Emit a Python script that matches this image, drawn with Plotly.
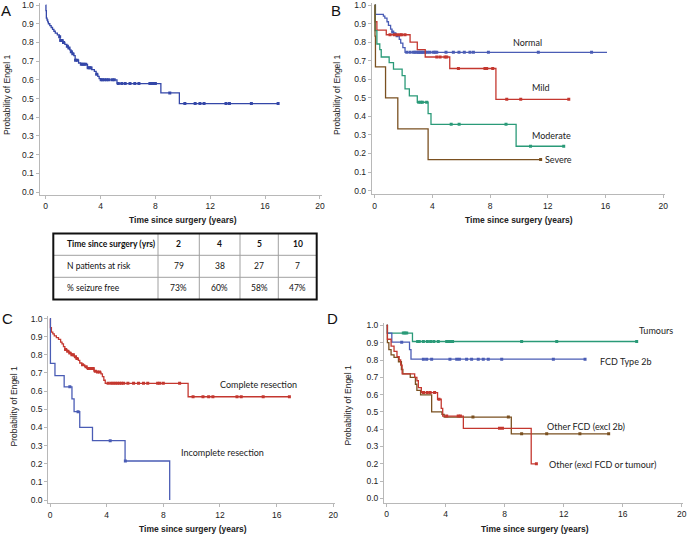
import plotly.graph_objects as go

W, H = 689, 535

# ---------------- DATA ----------------
# Panel A: overall Kaplan-Meier
A_t = [0, 0.02, 0.05, 0.1, 0.15, 0.2, 0.3, 0.4, 0.5, 0.6, 0.7, 0.85, 1.0, 1.05, 1.25, 1.4,
       1.55, 1.65, 1.75, 1.85, 1.95, 2.05, 2.15, 2.4, 2.55, 3.05, 3.35, 3.55, 3.68, 3.8, 3.9,
       4.0, 5.2, 8.4, 9.75]
A_s = [1.0, 0.97, 0.93, 0.92, 0.91, 0.90, 0.89, 0.88, 0.87, 0.86, 0.85, 0.84, 0.83, 0.81,
       0.80, 0.79, 0.78, 0.77, 0.76, 0.75, 0.74, 0.73, 0.705, 0.69, 0.683, 0.665, 0.655, 0.645,
       0.63, 0.618, 0.607, 0.60, 0.58, 0.53, 0.473]
A_end = 16.95
A_cens = [1.02, 1.1, 1.15, 1.2, 1.3, 1.58, 1.7, 1.87, 1.98, 2.18, 2.3, 2.6, 2.7, 2.8, 2.92,
          3.1, 3.2, 3.3, 3.72, 4.05, 4.15, 4.3, 4.45, 4.6, 4.85, 5.0, 5.3, 5.55, 5.8, 6.15,
          6.5, 6.8, 7.6, 7.75, 7.85, 8.0, 9.05, 10.15, 10.9, 11.25, 11.55, 13.15, 13.4, 15.0,
          16.95]

# Panel B: by severity
Bn_t = [0, 0.05, 0.6, 0.7, 0.85, 0.95, 1.1, 1.2, 1.3, 1.5, 1.7, 1.8, 1.95, 2.1]
Bn_s = [1.0, 0.95, 0.94, 0.93, 0.91, 0.89, 0.87, 0.855, 0.845, 0.835, 0.815, 0.795, 0.77, 0.745]
Bn_end = 16.1
Bn_cens = [1.25, 1.4, 1.55, 2.22, 2.45, 2.68, 2.79, 2.91, 3.03, 3.09, 3.19, 3.28, 3.37, 3.49,
           3.65, 3.83, 4.07, 4.18, 4.3, 4.94, 5.45, 5.84, 6.21, 6.6, 6.84, 7.88, 11.34, 15.03]

Bm_t = [0, 0.03, 0.15, 0.8, 2.45, 2.95, 3.5, 5.2, 8.4]
Bm_s = [1.0, 0.91, 0.865, 0.84, 0.80, 0.76, 0.72, 0.658, 0.492]
Bm_end = 13.45
Bm_cens = [1.06, 1.36, 1.57, 1.76, 1.87, 2.1, 4.3, 4.53, 4.87, 4.99, 5.8, 7.64, 7.76, 8.18,
           9.15, 10.12, 13.45]

Bo_t = [0, 0.03, 0.15, 0.35, 0.45, 1.0, 1.3, 1.9, 2.1, 2.4, 2.95, 3.7, 3.9, 9.8]
Bo_s = [1.0, 0.862, 0.79, 0.76, 0.72, 0.69, 0.655, 0.62, 0.548, 0.51, 0.476, 0.415, 0.357, 0.239]
Bo_end = 13.1
Bo_cens = [3.05, 3.2, 3.3, 3.6, 5.3, 5.85, 9.1, 10.8, 13.1]

Bs_t = [0, 0.02, 0.05, 0.75, 1.6, 3.7]
Bs_s = [1.0, 0.833, 0.667, 0.5, 0.333, 0.167]
Bs_end = 11.5
Bs_cens = [11.5]

# Panel C: by resection
Cc_t = [0, 0.03, 0.1, 0.2, 0.3, 0.45, 0.6, 0.75, 0.85, 0.95, 1.05, 1.2, 1.35, 1.5, 1.7,
        1.85, 2.0, 2.1, 2.25, 2.45, 2.6, 3.1, 3.3, 3.6, 3.7, 3.8, 3.9, 9.75]
Cc_s = [1.0, 0.95, 0.925, 0.915, 0.905, 0.895, 0.885, 0.87, 0.86, 0.845, 0.83, 0.82, 0.81,
        0.80, 0.79, 0.78, 0.77, 0.755, 0.745, 0.735, 0.725, 0.71, 0.705, 0.695, 0.68, 0.66,
        0.643, 0.569]
Cc_end = 16.9
Cc_cens = [1.1, 1.25, 1.4, 1.55, 1.65, 1.8, 1.9, 2.3, 2.55, 2.7, 2.8, 2.95, 3.05, 3.2, 3.35,
           3.5, 4.1, 4.3, 4.45, 4.6, 4.75, 4.9, 5.05, 5.2, 5.5, 5.9, 6.25, 6.6, 6.9, 7.6, 7.75,
           8.0, 9.15, 10.1, 10.8, 11.2, 11.5, 13.2, 13.5, 15.05, 16.9]

Ci_t = [0, 0.03, 0.35, 1.0, 1.55, 1.7, 2.1, 3.0, 5.3, 8.45]
Ci_s = [1.0, 0.753, 0.686, 0.624, 0.557, 0.487, 0.40, 0.327, 0.215, 0.0]
Ci_end = None
Ci_cens = [1.4, 1.98, 4.25, 5.32]

# Panel D: by pathology
Dt_t = [0, 0.05, 1.75]
Dt_s = [1.0, 0.956, 0.907]
Dt_end = 16.95
Dt_cens = [1.13, 1.24, 1.36, 2.1, 2.21, 2.49, 2.76, 2.98, 3.2, 3.5, 4.07, 4.25, 4.36, 4.47,
           9.15, 11.53, 16.95]

Df_t = [0, 0.05, 0.35, 1.55, 1.65]
Df_s = [1.0, 0.955, 0.903, 0.86, 0.805]
Df_end = 13.45
Df_cens = [1.02, 2.49, 2.71, 3.05, 4.29, 4.75, 4.93, 5.42, 5.76, 6.21, 6.55, 6.89, 7.8,
           11.3, 13.45]

Do_t = [0, 0.05, 0.15, 0.3, 0.5, 0.8, 1.0, 1.1, 1.6, 1.95, 2.05, 2.3, 3.05, 3.75, 3.9, 8.45]
Do_s = [1.0, 0.90, 0.86, 0.83, 0.815, 0.79, 0.745, 0.72, 0.70, 0.66, 0.625, 0.598, 0.50,
        0.486, 0.47, 0.373]
Do_end = 15.05
Do_cens = [5.85, 8.25, 9.15, 10.85, 13.1, 15.05]

Dx_t = [0, 0.05, 0.3, 0.5, 0.7, 0.85, 0.95, 1.05, 1.9, 2.05, 2.15, 2.35, 3.45, 3.7, 3.8,
        5.2, 9.8]
Dx_s = [1.0, 0.92, 0.88, 0.85, 0.82, 0.80, 0.77, 0.72, 0.70, 0.68, 0.64, 0.612, 0.573, 0.52,
        0.476, 0.405, 0.20]
Dx_end = 10.15
Dx_cens = [2.5, 2.75, 2.95, 3.25, 3.55, 4.07, 4.85, 5.0, 7.65, 7.85, 10.15]

# Table
tbl_header = "Time since surgery (yrs)"
tbl_times = ["2", "4", "5", "10"]
tbl_row_labels = ["N patients at risk", "% seizure free"]
tbl_at_risk = ["79", "38", "27", "7"]
tbl_pct = ["73%", "60%", "58%", "47%"]

x_ticks = [0, 4, 8, 12, 16, 20]
y_ticks = [i / 10 for i in range(11)]

# ---------------- STYLE ----------------
BLUE_A = "#3447a8"
BLUE = "#4a5cb5"
RED = "#c4372f"
GREEN = "#2a9a78"
BROWN = "#7a5020"
AXC = "#b8b8b8"
TICKFONT = dict(family="Liberation Sans, Arial", size=8.5, color="#222")
LABFONT = dict(family="Lato, Open Sans", size=9, color="#222")


def px(x):
    return x / W


def py(y):
    return 1 - y / H


def step_val(t, s, x):
    idx = 0
    for i, ti in enumerate(t):
        if ti <= x:
            idx = i
    return s[idx]


fig = go.Figure()


def add_km(n, t, s, end, cens, color):
    xa = "x" if n == 1 else f"x{n}"
    ya = "y" if n == 1 else f"y{n}"
    xs = list(t)
    ys = list(s)
    if end is not None:
        xs.append(end)
        ys.append(s[-1])
    fig.add_trace(go.Scatter(x=xs, y=ys, mode="lines",
                             line=dict(shape="hv", color=color, width=1.3),
                             xaxis=xa, yaxis=ya, hoverinfo="skip", showlegend=False))
    fig.add_trace(go.Scatter(x=cens, y=[step_val(t, s, c) for c in cens], mode="markers",
                             marker=dict(symbol="square", size=3, color=color,
                                         line=dict(width=0)),
                             xaxis=xa, yaxis=ya, hoverinfo="skip", showlegend=False))


add_km(1, A_t, A_s, A_end, A_cens, BLUE_A)
add_km(2, Bn_t, Bn_s, Bn_end, Bn_cens, BLUE)
add_km(2, Bm_t, Bm_s, Bm_end, Bm_cens, RED)
add_km(2, Bo_t, Bo_s, Bo_end, Bo_cens, GREEN)
add_km(2, Bs_t, Bs_s, Bs_end, Bs_cens, BROWN)
add_km(3, Cc_t, Cc_s, Cc_end, Cc_cens, RED)
add_km(3, Ci_t, Ci_s, Ci_end, Ci_cens, BLUE)
add_km(4, Dt_t, Dt_s, Dt_end, Dt_cens, GREEN)
add_km(4, Df_t, Df_s, Df_end, Df_cens, BLUE)
add_km(4, Do_t, Do_s, Do_end, Do_cens, BROWN)
add_km(4, Dx_t, Dx_s, Dx_end, Dx_cens, RED)

# panel geometry in pixels: (left, right, top, bottom, xrange, yrange)
panels = {
    1: (39.5, 322, 3, 195, [-0.45, 20.15], [-0.016, 1.011]),
    2: (371.7, 665, 3, 194.3, [-0.21, 20.12], [-0.02, 1.011]),
    3: (48.3, 335, 316, 503.3, [-0.12, 20.12], [-0.018, 1.014]),
    4: (384, 683, 323, 502.7, [-0.18, 20.09], [-0.025, 1.014]),
}

layout = dict(width=W, height=H, margin=dict(l=0, r=0, t=0, b=0, autoexpand=False),
              template="none",
              paper_bgcolor="white", plot_bgcolor="white", showlegend=False)
for n, (l, r, t, b, xr, yr) in panels.items():
    sfx = "" if n == 1 else str(n)
    layout["xaxis" + sfx] = dict(domain=[px(l), px(r)], range=xr, anchor="y" + sfx,
                                 tickvals=x_ticks, showline=True, linecolor=AXC, linewidth=1,
                                 ticks="outside", ticklen=3, tickcolor=AXC, tickfont=TICKFONT,
                                 showgrid=False, zeroline=False, automargin=False)
    layout["yaxis" + sfx] = dict(domain=[py(b), py(t)], range=yr, anchor="x" + sfx,
                                 tickvals=y_ticks, tickformat=".1f", showline=True,
                                 linecolor=AXC, linewidth=1, ticks="outside", ticklen=3,
                                 tickcolor=AXC, tickfont=TICKFONT, showgrid=False,
                                 zeroline=False, automargin=False)
fig.update_layout(**layout)

ann = []


def text(x, y, s, font, xanchor="center", angle=0):
    ann.append(dict(x=px(x), y=py(y), xref="paper", yref="paper", text=s, showarrow=False,
                    font=font, xanchor=xanchor, yanchor="middle", textangle=angle))


LETTER = dict(family="Liberation Sans, Arial", size=15, color="#111")
for x, y, s in [(6, 10, "A"), (335.5, 10, "B"), (7, 318.5, "C"), (332, 318.5, "D")]:
    text(x, y, s, LETTER)

XT = dict(family="Liberation Sans, Arial", size=8.5, color="#222")
for x, y in [(183, 220), (519, 220), (193, 529), (534.7, 529)]:
    text(x, y, "<b>Time since surgery (years)</b>", XT)
YT = dict(family="Liberation Sans, Arial", size=8.5, color="#222")
for x, y in [(7, 95), (337, 95), (13.5, 406), (347.5, 405)]:
    text(x, y, "Probability of Engel 1", YT, angle=-90)

# curve labels
for x, y, s in [(510.7, 43, "Normal"), (530, 88, "Mild"), (530, 136, "Moderate"),
                (543, 159, "Severe"), (218.3, 384.3, "Complete resection"),
                (179, 452.7, "Incomplete resection"), (637, 330, "Tumours"),
                (598, 361.7, "FCD Type 2b"), (545, 426, "Other FCD (excl 2b)"),
                (547, 464, "Other (excl FCD or tumour)")]:
    text(x, y, s, LABFONT, xanchor="left")

# table
tx = [53.3, 158, 199.3, 240, 278.3, 316.7]
ty = [233.5, 255.3, 277.3, 299.5]
shapes = []
for x in tx[1:-1]:
    shapes.append(dict(type="line", xref="paper", yref="paper", x0=px(x), x1=px(x),
                       y0=py(ty[0]), y1=py(ty[-1]), line=dict(color="#a0a0a0", width=1)))
for y in ty[1:-1]:
    shapes.append(dict(type="line", xref="paper", yref="paper", x0=px(tx[0]), x1=px(tx[-1]),
                       y0=py(y), y1=py(y), line=dict(color="#a0a0a0", width=1)))
shapes.append(dict(type="rect", xref="paper", yref="paper", x0=px(tx[0]), x1=px(tx[-1]),
                   y0=py(ty[-1]), y1=py(ty[0]), line=dict(color="#111", width=2)))

TF = dict(family="Lato, Open Sans", size=8.5, color="#111")
rows = [[f"<b>{tbl_header}</b>"] + [f"<b>{v}</b>" for v in tbl_times],
        [tbl_row_labels[0]] + tbl_at_risk,
        [tbl_row_labels[1]] + tbl_pct]
for ri, row in enumerate(rows):
    yc = (ty[ri] + ty[ri + 1]) / 2
    text(65, yc, row[0], TF, xanchor="left")
    for ci, v in enumerate(row[1:]):
        xc = (tx[ci + 1] + tx[ci + 2]) / 2
        text(xc, yc, v, TF)

fig.update_layout(annotations=ann, shapes=shapes)
fig.write_html("out.html", config={"displayModeBar": False},
               post_script="document.body.style.margin='0';document.body.style.padding='0';")
